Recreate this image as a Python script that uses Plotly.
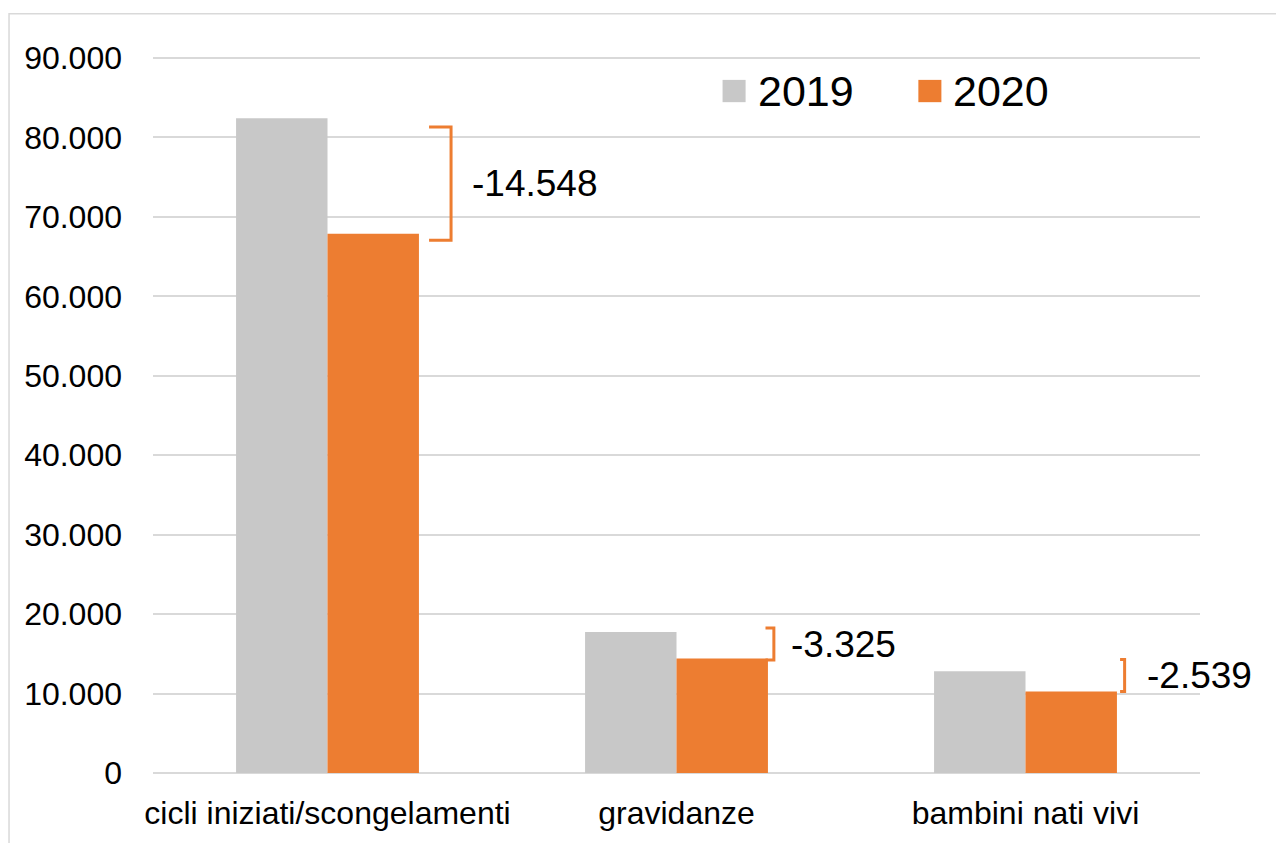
import plotly.graph_objects as go

categories = ["cicli iniziati/scongelamenti", "gravidanze", "bambini nati vivi"]
series_names = ["2019", "2020"]
values_2019 = [82416, 17748, 12800]
values_2020 = [67868, 14423, 10261]
y_ticks = [0, 10000, 20000, 30000, 40000, 50000, 60000, 70000, 80000, 90000]

colors = ["#C8C8C8", "#ED7D31"]
FONT = "Liberation Sans, Arial, sans-serif"

fig = go.Figure()
for name, vals, col in zip(series_names, [values_2019, values_2020], colors):
    fig.add_trace(go.Bar(x=categories, y=vals, name=name, marker=dict(color=col, line=dict(width=0)),
                         showlegend=False))

# bracket styling (offsets from category center, in category units; vertical nudges in value units)
bracket_x = [0.354, 0.279, 0.284]
bracket_arm = [0.063, 0.024, 0.013]
bracket_dy_top = [-1100, 500, 1500]
bracket_dy_bot = [-800, -200, 0]
label_dx = [0.408, 0.321, 0.341]

shapes = []
annotations = []
for i, (a, b) in enumerate(zip(values_2019, values_2020)):
    xv = i + bracket_x[i]
    x0 = xv - bracket_arm[i]
    ya = a + bracket_dy_top[i]
    yb = b + bracket_dy_bot[i]
    shapes.append(dict(type="path", xref="x", yref="y",
                       path=f"M {x0},{ya} L {xv},{ya} L {xv},{yb} L {x0},{yb}",
                       line=dict(color="#ED7D31", width=3)))
    diff = b - a
    txt = f"{diff:,}".replace(",", ".")
    annotations.append(dict(x=i + label_dx[i], y=(ya + yb) / 2, xref="x", yref="y", text=txt,
                            showarrow=False, xanchor="left", yanchor="middle",
                            font=dict(size=37, color="#000000", family=FONT)))

# manual legend
legend_x = [0.544, 0.731]
for name, col, lx in zip(series_names, colors, legend_x):
    shapes.append(dict(type="rect", xref="paper", yref="paper",
                       x0=lx, x1=lx + 0.022, y0=0.933, y1=0.964,
                       fillcolor=col, line=dict(width=0)))
    annotations.append(dict(x=lx + 0.0315, y=0.948, xref="paper", yref="paper", text=name,
                            showarrow=False, xanchor="left", yanchor="middle",
                            font=dict(size=43, color="#000000", family=FONT)))

# outer frame
shapes.append(dict(type="rect", xref="paper", yref="paper", x0=-0.1375, y0=-0.12, x1=1.1, y1=1.056,
                   line=dict(color="#D9D9D9", width=1.5), fillcolor="rgba(0,0,0,0)", layer="below"))

fig.update_layout(
    width=1276, height=835,
    margin=dict(l=145, r=84, t=46, b=67),
    paper_bgcolor="white", plot_bgcolor="white",
    barmode="group", bargap=0.476, bargroupgap=0,
    separators=",.",
    font=dict(family=FONT, size=32, color="#000000"),
    shapes=shapes, annotations=annotations,
)
fig.update_yaxes(range=[0, 90500], tickvals=y_ticks, tickformat=",d",
                 showgrid=True, gridcolor="#D9D9D9", gridwidth=2,
                 zeroline=True, zerolinecolor="#D9D9D9", zerolinewidth=2,
                 showline=False, ticks="", ticklabelstandoff=30,
                 tickfont=dict(size=32, color="#000000", family=FONT))
fig.update_xaxes(range=[-0.5, 2.5], showline=False, ticks="", ticklabelstandoff=18,
                 tickfont=dict(size=32, color="#000000", family=FONT))

fig.write_html("out.html")
